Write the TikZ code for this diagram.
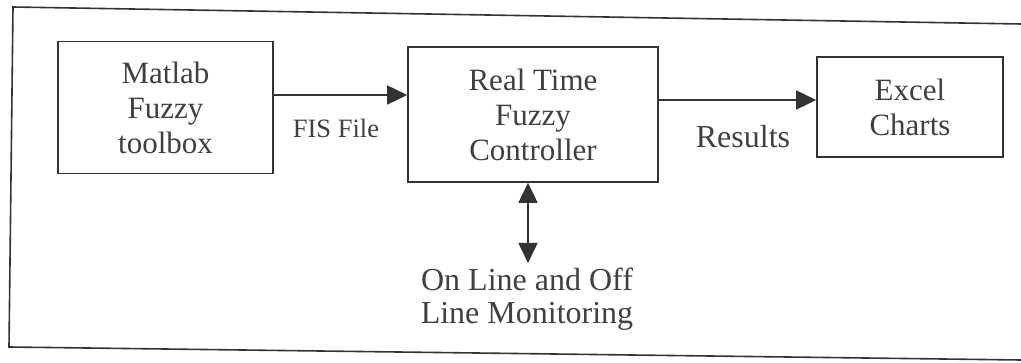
\documentclass[tikz,border=0pt]{standalone}
\usepackage{fontspec}
\setmainfont{Liberation Serif}
\usetikzlibrary{arrows.meta}
\definecolor{ink}{HTML}{333333}
\definecolor{txt}{HTML}{404040}
\begin{document}
\begin{tikzpicture}[x=1pt,y=-1pt,
  blk/.style={draw=ink,line width=1.6pt,text=txt,align=center,inner sep=0pt,
    font=\fontsize{31}{35}\selectfont},
  lbl/.style={text=txt,inner sep=0pt,align=center},
  arr/.style={draw=ink,line width=1.6pt,-{Triangle[length=20pt,width=19pt]}},
  darr/.style={draw=ink,line width=1.6pt,{Triangle[length=20pt,width=19pt]}-{Triangle[length=20pt,width=19pt]}}]
\useasboundingbox (0,0) rectangle (1021,363);
\fill[white] (0,0) rectangle (1021,363);
\draw[ink,line width=1.6pt] (1021,24) -- (13,7) -- (9,347) -- (1021,360);
\node[blk,minimum width=215pt,minimum height=132pt] (matlab) at (165.5,107.5) {Matlab\\Fuzzy\\toolbox};
\node[blk,minimum width=250pt,minimum height=135pt] (rt) at (533,114.5) {Real Time\\Fuzzy\\Controller};
\node[blk,minimum width=186pt,minimum height=100pt] (excel) at (910,107) {Excel\\Charts};
\coordinate (a1) at (matlab.east |- 0,95);
\coordinate (b1) at (rt.west |- 0,95);
\draw[arr] (a1) -- (b1);
\node[lbl,font=\fontsize{26.5}{30}\selectfont] (fis) at (336,128) {FIS File};
\coordinate (a2) at (rt.east |- 0,100);
\coordinate (b2) at (excel.west |- 0,100);
\draw[arr] (a2) -- (b2);
\node[lbl,font=\fontsize{32}{36}\selectfont] (res) at (743,137) {Results};
\node[lbl,font=\fontsize{32}{33}\selectfont] (mon) at (527,299) {On Line and Off\\Line Monitoring};
\coordinate (m1) at (528,263);
\draw[darr] (rt.south -| m1) -- (m1);
\end{tikzpicture}
\end{document}
